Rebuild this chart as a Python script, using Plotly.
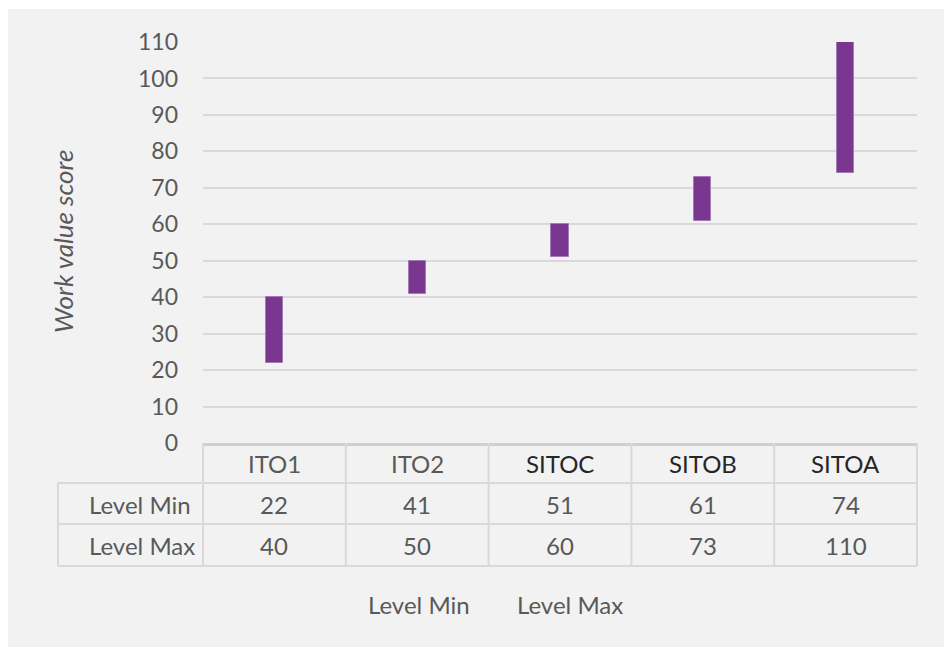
import plotly.graph_objects as go

# Pay-level work value score ranges
categories = ["ITO1", "ITO2", "SITOC", "SITOB", "SITOA"]
level_min = [22, 41, 51, 61, 74]
level_max = [40, 50, 60, 73, 110]
row_labels = ["Level Min", "Level Max"]
y_ticks = list(range(0, 111, 10))

FONT = "Lato"
GREY_TXT = "#595959"
DARK_TXT = "#262626"
GRID = "#d9d9d9"
BAR = "#7a3790"
BAR_EDGE = "#a57ab9"
PANEL = "#f2f2f2"

# figure pixel geometry (plot area)
W_FIG, H_FIG = 944, 647
L, R, T, B = 203, 917, 42, 443
PW, PH = R - L, B - T


def px_x(px):
    return (px - L) / PW


def px_y(py):
    return (B - py) / PH


fig = go.Figure()

# floating bars spanning min..max of each level
fig.add_trace(go.Bar(
    x=categories,
    y=[hi - lo for lo, hi in zip(level_min, level_max)],
    base=level_min,
    width=0.12,
    marker=dict(color=BAR, line=dict(color=BAR_EDGE, width=1)),
    showlegend=False,
    hovertemplate="%{x}: %{base} – %{y}<extra></extra>",
))

shapes = []
annotations = []

# thin white margin along the top and left of the grey panel
white = dict(fillcolor="white", line=dict(width=0), layer="below")
shapes.append(dict(type="rect", xref="paper", yref="paper",
                   x0=px_x(-2), x1=px_x(W_FIG + 2), y0=px_y(9), y1=px_y(-2), **white))
shapes.append(dict(type="rect", xref="paper", yref="paper",
                   x0=px_x(-2), x1=px_x(8), y0=px_y(H_FIG + 2), y1=px_y(-2), **white))

# data table below the axis
row_edges = [px_y(483), px_y(524), px_y(566)]
n = len(categories)
tbl_left = px_x(58)
line_style = dict(color=GRID, width=2)

# vertical cell borders at category boundaries
for i in range(n + 1):
    shapes.append(dict(type="line", xref="x domain", yref="paper",
                       x0=i / n, x1=i / n, y0=0, y1=row_edges[-1], line=line_style))
# left border of the row-label column
shapes.append(dict(type="line", xref="x domain", yref="paper",
                   x0=tbl_left, x1=tbl_left, y0=row_edges[0], y1=row_edges[-1], line=line_style))
# horizontal row borders
for ye in row_edges:
    shapes.append(dict(type="line", xref="x domain", yref="paper",
                       x0=tbl_left, x1=1, y0=ye, y1=ye, line=line_style))

font_tick = dict(family=FONT, size=23, color=GREY_TXT)
font_main = dict(family=FONT, size=24, color=GREY_TXT)
font_dark = dict(family=FONT, size=24, color=DARK_TXT)
font_title = dict(family=FONT, size=26, color=GREY_TXT)

header_y = px_y(463)
row_ys = [px_y(504), px_y(545)]

for i, cat in enumerate(categories):
    annotations.append(dict(xref="x", yref="paper", x=cat, y=header_y, text=cat,
                            showarrow=False, font=font_main if cat.startswith("ITO") else font_dark,
                            xanchor="center", yanchor="middle"))
    for row_vals, ry in zip([level_min, level_max], row_ys):
        annotations.append(dict(xref="x", yref="paper", x=cat, y=ry, text=str(row_vals[i]),
                                showarrow=False, font=font_main,
                                xanchor="center", yanchor="middle"))

for label, ry in zip(row_labels, row_ys):
    annotations.append(dict(xref="paper", yref="paper", x=px_x(87), y=ry, text=label,
                            showarrow=False, font=font_main, xanchor="left", yanchor="middle"))

# legend entries (text only)
for label, lx in zip(row_labels, [px_x(366), px_x(515)]):
    annotations.append(dict(xref="paper", yref="paper", x=lx, y=px_y(604), text=label,
                            showarrow=False, font=font_main, xanchor="left", yanchor="middle"))

# y-axis title
annotations.append(dict(xref="paper", yref="paper", x=px_x(63), y=px_y(242),
                        text="<i>Work value score</i>", textangle=-90, showarrow=False,
                        font=font_title, xanchor="center", yanchor="middle"))

fig.update_layout(
    width=W_FIG, height=H_FIG,
    margin=dict(l=L, r=W_FIG - R, t=T, b=H_FIG - B, pad=0),
    paper_bgcolor=PANEL,
    plot_bgcolor="rgba(0,0,0,0)",
    shapes=shapes,
    annotations=annotations,
    bargap=0,
    xaxis=dict(
        type="category", range=[-0.5, n - 0.5],
        showticklabels=False, showgrid=False, zeroline=False,
        showline=True, linecolor="#d0d0d0", linewidth=3,
        fixedrange=True,
    ),
    yaxis=dict(
        range=[0, 110], tickvals=y_ticks,
        showgrid=True, gridcolor=GRID, gridwidth=1.5,
        zeroline=False, showline=False,
        tickfont=font_tick, ticks="", ticklabelstandoff=24,
        fixedrange=True,
    ),
)

fig.write_html("out.html")
